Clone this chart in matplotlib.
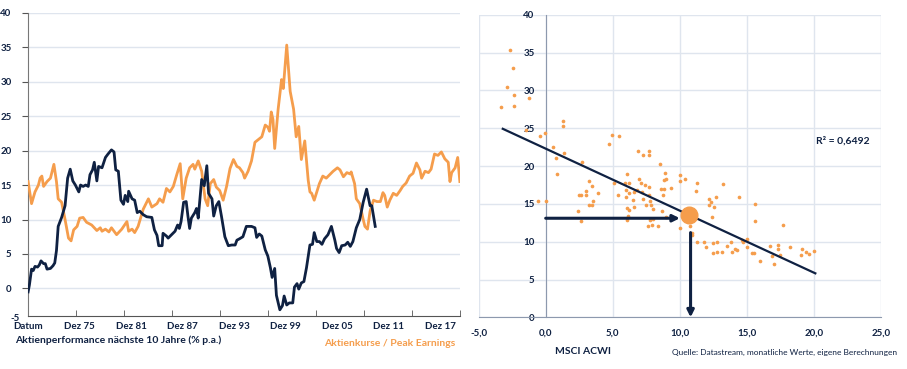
import numpy as np
import matplotlib.pyplot as plt

NAVY = '#0f2142'
ORANGE = '#f59d4c'
GRID = '#dfe5ee'

plt.rcParams['font.family'] = ['Lato', 'DejaVu Sans']

# --- Zeitreihen (Jahre seit Dez 69) ---
pe_t = [0, 0.4, 0.8, 1.2, 1.4, 1.6, 1.8, 2.2, 2.6, 3.0, 3.3, 3.5, 3.9, 4.3, 4.7, 5.0,
        5.3, 5.7, 6.0, 6.4, 6.8, 7.4, 8.0, 8.4, 8.6, 9.0, 9.4, 9.7, 10.3, 10.9, 11.5,
        11.7, 12.1, 12.4, 12.8, 13.4, 14.0, 14.4, 15.0, 15.3, 15.7, 16.1, 16.5, 16.9,
        17.3, 17.7, 18.0, 18.4, 18.8, 19.2, 19.4, 19.8, 20.2, 20.6, 20.9, 21.2, 21.6,
        21.9, 22.3, 22.7, 23.1, 23.5, 23.9, 24.3, 24.6, 25.0, 25.2, 25.6, 26.0, 26.4,
        26.8, 27.2, 27.6, 27.9, 28.1, 28.3, 28.5, 28.7, 29.1, 29.5, 29.7, 30.1, 30.5,
        30.9, 31.2, 31.5, 31.8, 32.2, 32.6, 32.8, 33.0, 33.3, 33.6, 33.9, 34.3, 34.7,
        35.1, 35.5, 36.0, 36.3, 36.7, 37.1, 37.5, 37.6, 38.0, 38.2, 38.6, 39.0, 39.2,
        39.5, 39.8, 40.2, 40.6, 41.0, 41.3, 41.5, 41.8, 42.1, 42.5, 42.9, 43.3, 43.6,
        44.0, 44.4, 44.8, 45.2, 45.6, 45.8, 46.2, 46.6, 46.9, 47.3, 47.7, 48.1, 48.5,
        48.9, 49.1, 49.3, 49.7, 50.0, 50.25]
pe_v = [15.5, 12.3, 14.0, 15.0, 16.0, 16.3, 14.8, 15.5, 16.0, 18.0, 15.5, 13.0, 12.5,
        10.0, 7.3, 6.9, 8.5, 9.0, 10.2, 10.3, 9.6, 9.2, 8.4, 8.8, 8.3, 8.6, 8.2, 8.8,
        7.8, 8.6, 9.7, 8.3, 8.6, 8.1, 9.0, 11.5, 13.0, 11.8, 12.3, 13.0, 12.5, 14.5,
        14.0, 14.8, 16.5, 18.1, 13.0, 16.0, 17.5, 18.0, 17.3, 18.5, 17.0, 13.0, 12.0,
        15.2, 15.8, 14.7, 14.2, 12.8, 14.8, 17.4, 18.7, 17.7, 17.5, 16.8, 16.0, 17.0,
        18.5, 21.2, 21.6, 22.0, 23.7, 23.4, 22.8, 25.6, 24.5, 20.3, 26.0, 30.3, 29.0,
        35.3, 28.6, 26.0, 22.0, 23.5, 18.7, 21.4, 15.7, 14.0, 13.8, 12.8, 14.0, 15.2,
        16.3, 16.0, 16.5, 17.0, 17.5, 17.2, 16.2, 16.8, 16.6, 16.9, 15.2, 13.0, 12.3,
        10.0, 9.0, 8.6, 11.2, 12.8, 12.6, 12.6, 13.9, 13.5, 11.8, 12.8, 13.8, 13.5,
        14.2, 14.8, 15.3, 16.3, 16.7, 18.2, 17.2, 16.0, 17.0, 16.8, 17.3, 19.5, 19.3,
        19.8, 18.8, 18.3, 15.5, 16.8, 17.5, 19.0, 15.5]

perf_t = [0, 0.15, 0.4, 0.6, 0.8, 1.1, 1.3, 1.5, 1.8, 2.0, 2.2, 2.6, 2.9, 3.1, 3.3,
          3.5, 3.9, 4.3, 4.6, 4.9, 5.2, 5.5, 5.9, 6.1, 6.4, 6.7, 7.0, 7.2, 7.5, 7.7,
          8.0, 8.2, 8.6, 9.0, 9.3, 9.7, 10.0, 10.2, 10.5, 10.8, 11.1, 11.3, 11.6, 11.7,
          12.1, 12.4, 12.7, 13.0, 13.4, 13.8, 14.4, 14.7, 15.0, 15.2, 15.6, 15.7, 16.1,
          16.3, 16.7, 17.1, 17.4, 17.6, 17.8, 18.1, 18.4, 18.6, 18.8, 19.0, 19.4, 19.6,
          19.8, 20.2, 20.5, 20.8, 21.0, 21.4, 21.6, 21.9, 22.2, 22.5, 22.9, 23.3, 23.7,
          24.1, 24.3, 24.6, 25.0, 25.4, 26.0, 26.4, 26.6, 26.9, 27.2, 27.6, 27.9, 28.2,
          28.4, 28.7, 28.9, 29.3, 29.6, 29.8, 30.1, 30.4, 30.8, 31.0, 31.3, 31.5, 31.8,
          32.1, 32.4, 32.8, 33.1, 33.3, 33.6, 33.9, 34.2, 34.5, 34.9, 35.3, 35.7, 35.9,
          36.2, 36.5, 36.9, 37.2, 37.5, 37.8, 38.2, 38.6, 39.0, 39.4, 39.8, 40.0, 40.4]
perf_v = [-0.5, 0.5, 2.8, 2.6, 3.2, 3.1, 3.4, 4.0, 3.6, 3.6, 2.8, 2.9, 3.3, 3.7, 5.5,
          9.0, 10.3, 12.0, 16.0, 17.3, 15.6, 15.0, 14.0, 15.0, 14.8, 15.0, 14.8, 16.5,
          17.2, 18.3, 15.6, 17.7, 17.5, 19.0, 19.5, 20.1, 19.8, 17.2, 17.0, 12.8, 12.2,
          13.5, 12.6, 14.1, 13.0, 12.8, 11.0, 11.2, 10.7, 10.4, 10.3, 8.5, 7.7, 6.2,
          6.2, 8.0, 7.6, 7.3, 7.8, 8.3, 9.2, 8.7, 9.7, 12.5, 12.6, 10.5, 8.7, 10.2, 11.0,
          11.6, 10.2, 15.8, 14.9, 17.8, 13.8, 13.0, 10.5, 12.0, 12.6, 10.5, 7.5, 6.2,
          6.3, 6.3, 7.0, 7.2, 7.5, 9.0, 9.0, 8.8, 7.4, 7.9, 7.6, 5.6, 4.7, 3.0, 1.6, 2.9,
          -1.0, -3.1, -2.5, -1.1, -2.4, -2.1, -2.1, 0.2, 0.7, -0.1, 0.8, 1.0, 3.0, 6.3,
          6.4, 8.1, 6.8, 6.8, 6.4, 7.2, 7.8, 9.0, 7.0, 5.8, 5.2, 6.2, 6.3, 6.7, 6.1, 6.8,
          8.8, 10.0, 12.5, 14.4, 12.0, 12.0, 9.0]

date_labels = ['Datum', 'Dez 75', 'Dez 81', 'Dez 87', 'Dez 93', 'Dez 99',
               'Dez 05', 'Dez 11', 'Dez 17']

# --- Streudiagramm: MSCI ACWI Rendite (x) vs. KGV Peak Earnings (y) ---
sc_x = [-2.68, -2.46, -2.86, -2.36, -2.36, -3.3, -1.22, -1.49, -0.42, -0.05, 1.27,
        1.27, 0.57, 0.75, 1.34, 0.85, -0.55, 0.05, 2.71, 2.46, 2.66, 3.0, 3.0, 3.26,
        3.45, 3.5, 3.23, 3.45, 3.93, 2.44, 2.63, 4.7, 4.97, 5.49, 5.12, 5.37, 6.04,
        5.91, 5.96, 5.96, 6.19, 6.21, 6.04, 6.21, 6.11, 6.09, 6.59, 6.54, 6.59, 6.78,
        6.86, 6.96, 7.1, 7.28, 7.4, 7.28, 7.21, 7.7, 7.7, 7.68, 7.68, 7.8, 7.83, 7.48,
        8.0, 7.75, 8.0, 7.6, 7.9, 8.4, 8.55, 8.63, 8.72, 8.85, 8.92, 8.85, 9.0, 9.34,
        8.65, 8.97, 10.0, 10.04, 10.36, 10.0, 10.78, 10.76, 10.9, 10.93, 11.26, 11.3,
        11.2, 11.8, 11.95, 12.2, 12.2, 12.3, 12.55, 12.7, 12.4, 12.5, 12.8, 12.5,
        12.75, 13.2, 13.17, 13.5, 13.84, 13.9, 14.1, 14.24, 14.44, 14.6, 14.7, 15.0,
        15.4, 15.6, 15.63, 15.98, 16.7, 16.9, 17.0, 17.3, 17.35, 17.7, 17.5, 18.2,
        19.1, 19.0, 19.4, 19.6, 20.0, 15.55, 15.0]
sc_y = [35.4, 33.0, 30.5, 29.4, 27.9, 27.8, 29.0, 24.8, 24.0, 24.4, 25.9, 25.3, 22.5,
        21.0, 21.7, 18.9, 15.4, 15.4, 20.6, 16.2, 16.2, 16.7, 16.2, 18.0, 17.4, 15.4,
        14.8, 14.8, 16.5, 14.1, 12.7, 22.9, 24.1, 24.0, 17.7, 16.2, 18.9, 17.7, 16.8,
        15.9, 17.8, 16.5, 14.4, 14.2, 13.4, 12.9, 16.6, 15.5, 14.6, 16.8, 22.0, 18.3,
        17.8, 21.5, 17.5, 15.6, 16.6, 22.0, 21.5, 17.2, 16.2, 15.4, 14.8, 14.8, 14.3,
        12.9, 13.0, 12.1, 12.2, 12.1, 20.3, 17.0, 16.2, 18.1, 19.1, 16.9, 18.3, 17.1,
        14.1, 13.3, 18.8, 18.0, 18.3, 11.8, 13.2, 12.1, 11.2, 10.9, 9.9, 17.7, 16.7,
        10.0, 9.3, 15.6, 14.8, 15.3, 14.6, 15.9, 13.3, 9.8, 10.0, 8.5, 8.7, 17.6, 8.7,
        9.4, 10.0, 8.7, 9.1, 8.9, 15.9, 10.2, 9.9, 9.3, 8.5, 15.0, 12.7, 7.4, 9.4, 8.1,
        7.0, 9.6, 9.0, 12.2, 8.2, 9.3, 9.0, 8.3, 8.7, 8.4, 8.8, 8.5, 10.4]

trend_slope, trend_icpt = -0.82, 22.3
trend_x = [-3.2, 20.1]
current_x, current_y = 10.7, 13.5
arrow_y = 13.1

fig = plt.figure(figsize=(9.07, 3.69), dpi=100)

# ---------- linke Grafik ----------
ax1 = fig.add_axes([0.031, 0.1436, 0.476, 0.822])
ax1.plot(pe_t, pe_v, color=ORANGE, lw=2.0, zorder=3)
ax1.plot(perf_t, perf_v, color=NAVY, lw=2.0, zorder=4)
ax1.set_xlim(0, 50.25)
ax1.set_ylim(-4, 40)
ax1.set_yticks(range(0, 41, 5))
ax1.grid(axis='y', color=GRID, lw=1)
ax1.set_axisbelow(True)
ax1.set_xticks(range(0, 49, 6))
ax1.set_xticklabels(date_labels)
ax1.set_xticks(np.linspace(0, 50.25, 10), minor=True)
ax1.tick_params(axis='x', which='major', length=0, pad=4, labelsize=7, labelcolor=NAVY)
ax1.tick_params(axis='x', which='minor', length=4, direction='in', color='#555555')
ax1.tick_params(axis='y', length=4, direction='out', color='#555555', labelsize=7,
                labelcolor=NAVY, pad=8)
for lab in ax1.get_xticklabels() + ax1.get_yticklabels():
    lab.set_fontweight('bold')
ax1.text(-1.0, -4.4, '-5', ha='right', va='center', fontsize=7, color=NAVY,
         fontweight='bold', clip_on=False)
for s in ['top', 'right']:
    ax1.spines[s].set_visible(False)
ax1.spines['left'].set_color('#777777')
ax1.spines['bottom'].set_color('#555555')
fig.text(0.017, 0.078, 'Aktienperformance nächste 10 Jahre (% p.a.)', fontsize=7.5,
         fontweight='bold', color=NAVY, ha='left', va='center')
fig.text(0.502, 0.068, 'Aktienkurse / Peak Earnings', fontsize=7.5,
         fontweight='bold', color=ORANGE, ha='right', va='center')

# ---------- rechte Grafik ----------
ax2 = fig.add_axes([0.5277, 0.140, 0.4437, 0.820])
ax2.scatter(sc_x, sc_y, s=7, color=ORANGE, zorder=3, linewidths=0)
tx = np.array(trend_x)
ax2.plot(tx, trend_slope * tx + trend_icpt, color=NAVY, lw=1.6, zorder=4)
ax2.plot([current_x], [current_y], 'o', color=ORANGE, ms=12, zorder=6)
ax2.annotate('', xy=(10.0, arrow_y), xytext=(0, arrow_y),
             arrowprops=dict(arrowstyle='-|>', color=NAVY, lw=2.2,
                             mutation_scale=10, shrinkA=0, shrinkB=0), zorder=5)
ax2.annotate('', xy=(current_x + 0.1, 0), xytext=(current_x + 0.1, 11.2),
             arrowprops=dict(arrowstyle='-|>', color=NAVY, lw=2.2,
                             mutation_scale=10, shrinkA=0, shrinkB=0), zorder=5)
ax2.set_xlim(-5, 25)
ax2.set_ylim(0, 40)
ax2.set_xticks(range(-5, 26, 5))
ax2.set_xticklabels([f'{v:.1f}'.replace('.', ',') for v in range(-5, 26, 5)])
ax2.set_yticks(range(0, 41, 5))
ax2.grid(color=GRID, lw=1)
ax2.set_axisbelow(True)
ax2.spines['left'].set_position(('data', 0))
ax2.spines['left'].set_color('#8d99ae')
ax2.spines['bottom'].set_color('#8d99ae')
for s in ['top', 'right']:
    ax2.spines[s].set_visible(False)
ax2.tick_params(length=0, labelsize=7, labelcolor=NAVY)
ax2.tick_params(axis='y', pad=8)
ax2.tick_params(axis='x', pad=8)
for lab in ax2.get_xticklabels() + ax2.get_yticklabels():
    lab.set_fontweight('bold')
ax2.text(20.15, 23.3, 'R² = 0,6492', fontsize=7.5, fontweight='bold', color=NAVY,
         ha='left', va='center')
fig.text(0.643, 0.048, 'MSCI ACWI', fontsize=7.5, fontweight='bold', color=NAVY,
         ha='center', va='center')
fig.text(0.989, 0.044, 'Quelle: Datastream, monatliche Werte, eigene Berechnungen',
         fontsize=6, color=NAVY, ha='right', va='center')

fig.savefig('out.png', dpi=100)
